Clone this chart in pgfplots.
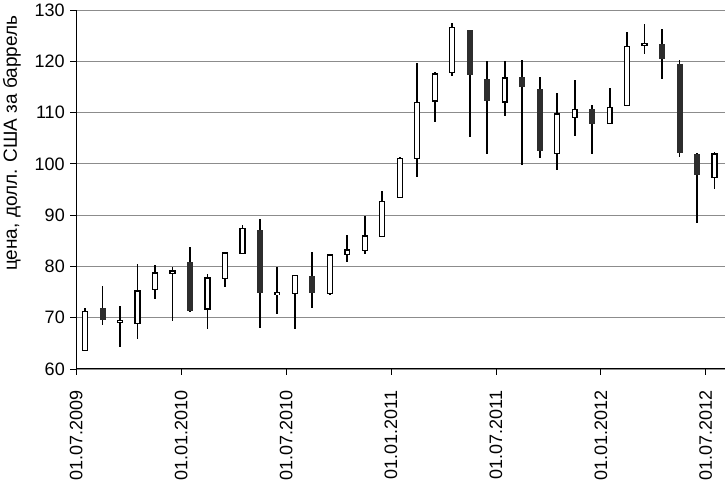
\documentclass[border=0pt]{standalone}
\usepackage{pgfplots}
\pgfplotsset{compat=1.18}
\usepackage{pgfplotstable}
\usepackage{fontspec}
\setmainfont{Liberation Sans}
\definecolor{darkbody}{RGB}{45,45,45}
\definecolor{gridgray}{RGB}{140,140,140}

\pgfplotstableread{
i o h l c
0 63.8 71.8 63.6 71.1
2 69.2 72.2 64.2 69.4
3 69.0 80.5 65.9 75.1
4 75.6 80.2 73.6 78.6
5 78.8 79.8 69.4 79.0
7 71.8 78.5 67.8 77.6
8 77.8 82.8 76.0 82.5
9 82.6 88.0 82.5 87.3
11 74.6 79.9 70.8 74.8
12 74.9 78.2 67.8 78.1
14 74.8 82.5 74.5 82.1
15 82.5 86.2 80.9 83.1
16 83.3 89.8 82.4 85.8
17 86.0 94.8 85.8 92.5
18 93.6 101.4 93.5 100.9
19 101.1 119.6 97.4 111.8
20 112.4 118.0 108.2 117.4
21 117.9 127.4 117.1 126.4
24 112.2 120.0 109.4 116.6
27 102.1 113.9 98.8 109.6
28 109.1 116.4 105.4 110.5
30 108.0 114.8 107.8 110.9
31 111.5 125.7 111.2 122.8
32 123.2 127.2 121.5 123.4
36 97.5 102.4 95.1 101.8
}\up

\pgfplotstableread{
i o h l c
1 71.8 76.1 68.6 69.6
6 80.8 83.8 71.1 71.3
10 87.1 89.3 68.0 74.9
13 78.1 82.8 71.8 74.9
22 126.1 126.1 105.2 117.3
23 116.6 120.0 102.0 112.2
25 116.9 120.3 99.8 115.0
26 114.6 116.9 101.1 102.5
29 110.7 111.5 102.0 107.8
33 123.3 126.2 116.5 120.5
34 119.5 120.2 101.4 102.2
35 102.0 102.2 88.5 97.8
}\down

\begin{document}
\begin{tikzpicture}
\begin{axis}[
  scale only axis, width=648.7pt, height=359pt,
  xmin=0, xmax=37.1, ymin=60, ymax=130,
  axis lines*=left,
  axis line style={-, line width=1pt, black},
  xtick={0,6,12,18,24,30,36},
  xticklabels={01.07.2009,01.01.2010,01.07.2010,01.01.2011,01.07.2011,01.01.2012,01.07.2012},
  xticklabel style={rotate=90, anchor=east, font=\fontsize{18}{20}\selectfont},
  xticklabel shift=12pt,
  ytick={60,70,...,130},
  yticklabel style={font=\fontsize{18}{20}\selectfont},
  yticklabel shift=2pt,
  /pgf/number format/assume math mode=true,
  ymajorgrids,
  grid style={gridgray, line width=0.9pt},
  tick align=outside, major tick length=6pt,
  tick style={black, line width=0.9pt},
  clip=false,
]
% wicks
\addplot[draw=none, mark=none, forget plot,
  error bars/.cd, y dir=both, y explicit, error mark=none,
  error bar style={draw=black, line width=1.8pt}]
  table[x expr=\thisrow{i}+0.5, y expr=(\thisrow{h}+\thisrow{l})/2, y error expr=(\thisrow{h}-\thisrow{l})/2] {\up};
\addplot[draw=none, mark=none, forget plot,
  error bars/.cd, y dir=both, y explicit, error mark=none,
  error bar style={draw=black, line width=1.8pt}]
  table[x expr=\thisrow{i}+0.5, y expr=(\thisrow{h}+\thisrow{l})/2, y error expr=(\thisrow{h}-\thisrow{l})/2] {\down};
% dark bodies
\addplot[draw=none, mark=none, forget plot,
  error bars/.cd, y dir=both, y explicit, error mark=none,
  error bar style={draw=darkbody, line width=6pt}]
  table[x expr=\thisrow{i}+0.5, y expr=(\thisrow{o}+\thisrow{c})/2, y error expr=(\thisrow{o}-\thisrow{c})/2] {\down};
% white bodies: outline then fill
\addplot[draw=none, mark=none, forget plot,
  error bars/.cd, y dir=both, y explicit, error mark=none,
  error bar style={draw=black, line width=6.2pt}]
  table[x expr=\thisrow{i}+0.5, y expr=(\thisrow{o}+\thisrow{c})/2, y error expr=(\thisrow{c}-\thisrow{o})/2+0.25] {\up};
\addplot[draw=none, mark=none, forget plot,
  error bars/.cd, y dir=both, y explicit, error mark=none,
  error bar style={draw=white, line width=3.6pt}]
  table[x expr=\thisrow{i}+0.5, y expr=(\thisrow{o}+\thisrow{c})/2, y error expr=(\thisrow{c}-\thisrow{o})/2] {\up};
\end{axis}
\node[rotate=90, anchor=west, font=\fontsize{19}{21}\selectfont, inner sep=0pt] at (-64.3pt,98pt) {цена, долл. США за баррель};
\pgfresetboundingbox
\useasboundingbox (-76.3pt,-112pt) rectangle (648.7pt,369pt);
\end{tikzpicture}
\end{document}
